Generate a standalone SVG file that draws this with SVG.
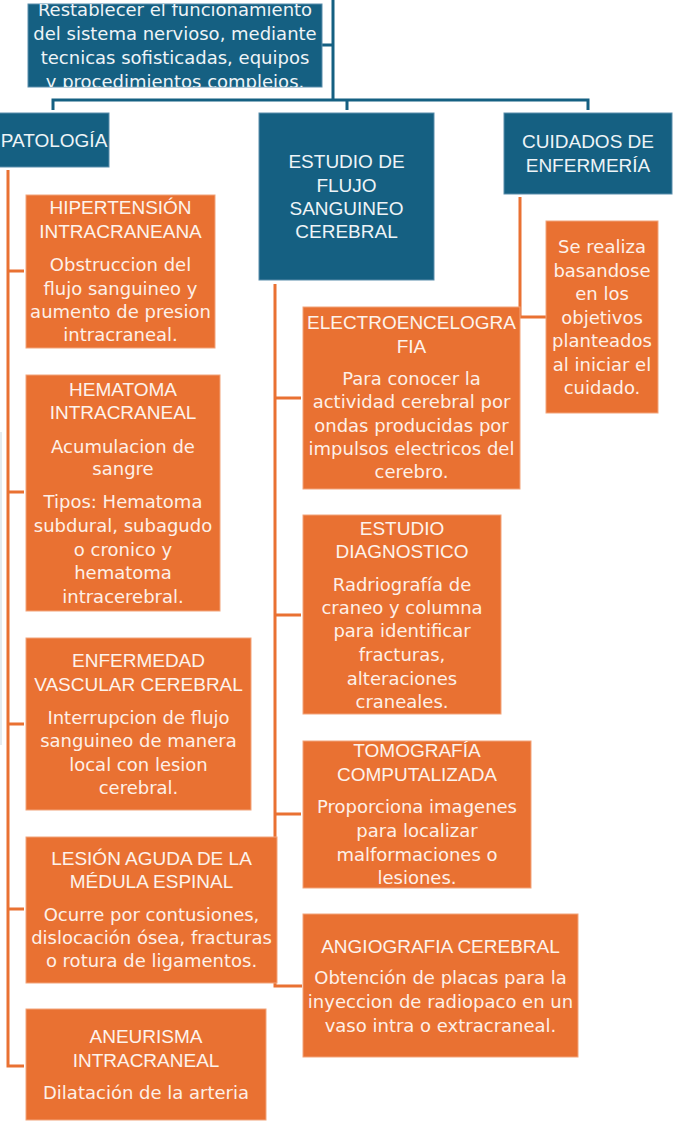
<svg xmlns="http://www.w3.org/2000/svg" width="678" height="1124" viewBox="0 0 678 1124">
<style>
.blue{fill:#156082;stroke:#5a8dab;stroke-width:1}
.orange{fill:#e97132;stroke:#f2a47a;stroke-width:1}
.h{font-family:"Liberation Sans",Arial,sans-serif;font-size:19px;fill:#fdf3ec;text-anchor:middle}
.b{font-family:"DejaVu Sans",sans-serif;font-size:18px;fill:#fdf0e8;text-anchor:middle}
.hb{font-family:"Liberation Sans",Arial,sans-serif;font-size:19px;fill:#eef4f7;text-anchor:middle}
.bb{font-family:"DejaVu Sans",sans-serif;font-size:18px;fill:#eef4f7;text-anchor:middle}
.cb{stroke:#156082;stroke-width:3;fill:none}
.co{stroke:#e97132;stroke-width:3;fill:none}
</style>
<defs>
<clipPath id="rootclip"><rect x="28" y="4" width="294" height="83"/></clipPath>
</defs>
<rect width="678" height="1124" fill="#ffffff"/>
<line x1="1" y1="432" x2="1" y2="745" stroke="#dde6ed" stroke-width="1.5"/>
<g id="connectors">
<path class="cb" d="M322,45 H333 M333,0 V100 M53,110 V100 H588 V110 M347,100 V110"/>
<path class="co" d="M8,170 V1066 H24 M8,271 H24 M8,492 H24 M8,724 H24 M8,909 H24"/>
<path class="co" d="M275,284 V986 H302 M275,398 H301 M275,615 H301 M275,814 H301"/>
<path class="co" d="M520,197 V317 H546"/>
</g>
<g id="root">
<rect class="blue" x="28" y="4" width="294" height="83"/>
<g clip-path="url(#rootclip)">
<text class="bb" x="175" y="15.5">Restablecer el funcionamiento</text>
<text class="bb" x="175" y="39.5">del sistema nervioso, mediante</text>
<text class="bb" x="175" y="63.5">tecnicas sofisticadas, equipos</text>
<text class="bb" x="175" y="87.5">y procedimientos complejos.</text>
</g>
</g>
<g id="patologia">
<rect class="blue" x="-2" y="113" width="111" height="54"/>
<text class="hb" x="54" y="147">PATOLOGÍA</text>
</g>
<g id="estudio-flujo">
<rect class="blue" x="259" y="113" width="175" height="167"/>
<text class="hb" x="346.5" y="168">ESTUDIO DE</text>
<text class="hb" x="346.5" y="192">FLUJO</text>
<text class="hb" x="346.5" y="215">SANGUINEO</text>
<text class="hb" x="346.5" y="238">CEREBRAL</text>
</g>
<g id="cuidados">
<rect class="blue" x="504" y="113" width="168" height="81"/>
<text class="hb" x="588" y="148">CUIDADOS DE</text>
<text class="hb" x="588" y="172">ENFERMERÍA</text>
</g>
<g id="cuidados-texto">
<rect class="orange" x="546" y="221" width="112" height="192"/>
<text class="b" x="602" y="253">Se realiza</text>
<text class="b" x="602" y="276.5">basandose</text>
<text class="b" x="602" y="300">en los</text>
<text class="b" x="602" y="323.5">objetivos</text>
<text class="b" x="602" y="347">planteados</text>
<text class="b" x="602" y="370.5">al iniciar el</text>
<text class="b" x="602" y="394">cuidado.</text>
</g>
<g id="hipertension">
<rect class="orange" x="26" y="195" width="189" height="153"/>
<text class="h" x="120.5" y="214">HIPERTENSIÓN</text>
<text class="h" x="120.5" y="238">INTRACRANEANA</text>
<text class="b" x="120.5" y="271">Obstruccion del</text>
<text class="b" x="120.5" y="294.5">flujo sanguineo y</text>
<text class="b" x="120.5" y="318">aumento de presion</text>
<text class="b" x="120.5" y="341">intracraneal.</text>
</g>
<g id="hematoma">
<rect class="orange" x="26" y="375" width="194" height="236"/>
<text class="h" x="123" y="396">HEMATOMA</text>
<text class="h" x="123" y="419">INTRACRANEAL</text>
<text class="b" x="123" y="453">Acumulacion de</text>
<text class="b" x="123" y="475">sangre</text>
<text class="b" x="123" y="508">Tipos: Hematoma</text>
<text class="b" x="123" y="532">subdural, subagudo</text>
<text class="b" x="123" y="556">o cronico y</text>
<text class="b" x="123" y="579">hematoma</text>
<text class="b" x="123" y="603">intracerebral.</text>
</g>
<g id="enfermedad">
<rect class="orange" x="26" y="638" width="225" height="172"/>
<text class="h" x="138.5" y="667">ENFERMEDAD</text>
<text class="h" x="138.5" y="691">VASCULAR CEREBRAL</text>
<text class="b" x="138.5" y="724">Interrupcion de flujo</text>
<text class="b" x="138.5" y="747">sanguineo de manera</text>
<text class="b" x="138.5" y="771">local con lesion</text>
<text class="b" x="138.5" y="794">cerebral.</text>
</g>
<g id="lesion">
<rect class="orange" x="26" y="837" width="251" height="146"/>
<text class="h" x="151.5" y="865">LESIÓN AGUDA DE LA</text>
<text class="h" x="151.5" y="888">MÉDULA ESPINAL</text>
<text class="b" x="151.5" y="921">Ocurre por contusiones,</text>
<text class="b" x="151.5" y="944">dislocación ósea, fracturas</text>
<text class="b" x="151.5" y="967">o rotura de ligamentos.</text>
</g>
<g id="aneurisma">
<rect class="orange" x="26" y="1009" width="240" height="111"/>
<text class="h" x="146" y="1043">ANEURISMA</text>
<text class="h" x="146" y="1067">INTRACRANEAL</text>
<text class="b" x="146" y="1099">Dilatación de la arteria</text>
</g>
<g id="electro">
<rect class="orange" x="303" y="307" width="217" height="182"/>
<text class="h" x="411.5" y="329">ELECTROENCELOGRA</text>
<text class="h" x="411.5" y="353">FIA</text>
<text class="b" x="411.5" y="385">Para conocer la</text>
<text class="b" x="411.5" y="408">actividad cerebral por</text>
<text class="b" x="411.5" y="432">ondas producidas por</text>
<text class="b" x="411.5" y="455">impulsos electricos del</text>
<text class="b" x="411.5" y="478">cerebro.</text>
</g>
<g id="diagnostico">
<rect class="orange" x="303" y="515" width="198" height="199"/>
<text class="h" x="402" y="535">ESTUDIO</text>
<text class="h" x="402" y="558">DIAGNOSTICO</text>
<text class="b" x="402" y="591">Radriografía de</text>
<text class="b" x="402" y="614">craneo y columna</text>
<text class="b" x="402" y="637">para identificar</text>
<text class="b" x="402" y="661">fracturas,</text>
<text class="b" x="402" y="685">alteraciones</text>
<text class="b" x="402" y="708">craneales.</text>
</g>
<g id="tomografia">
<rect class="orange" x="303" y="741" width="228" height="147"/>
<text class="h" x="417" y="757">TOMOGRAFÍA</text>
<text class="h" x="417" y="781">COMPUTALIZADA</text>
<text class="b" x="417" y="813">Proporciona imagenes</text>
<text class="b" x="417" y="837">para localizar</text>
<text class="b" x="417" y="861">malformaciones o</text>
<text class="b" x="417" y="884">lesiones.</text>
</g>
<g id="angiografia">
<rect class="orange" x="303" y="914" width="275" height="143"/>
<text class="h" x="440.5" y="953">ANGIOGRAFIA CEREBRAL</text>
<text class="b" x="440.5" y="984">Obtención de placas para la</text>
<text class="b" x="440.5" y="1008">inyeccion de radiopaco en un</text>
<text class="b" x="440.5" y="1032">vaso intra o extracraneal.</text>
</g>
</svg>
